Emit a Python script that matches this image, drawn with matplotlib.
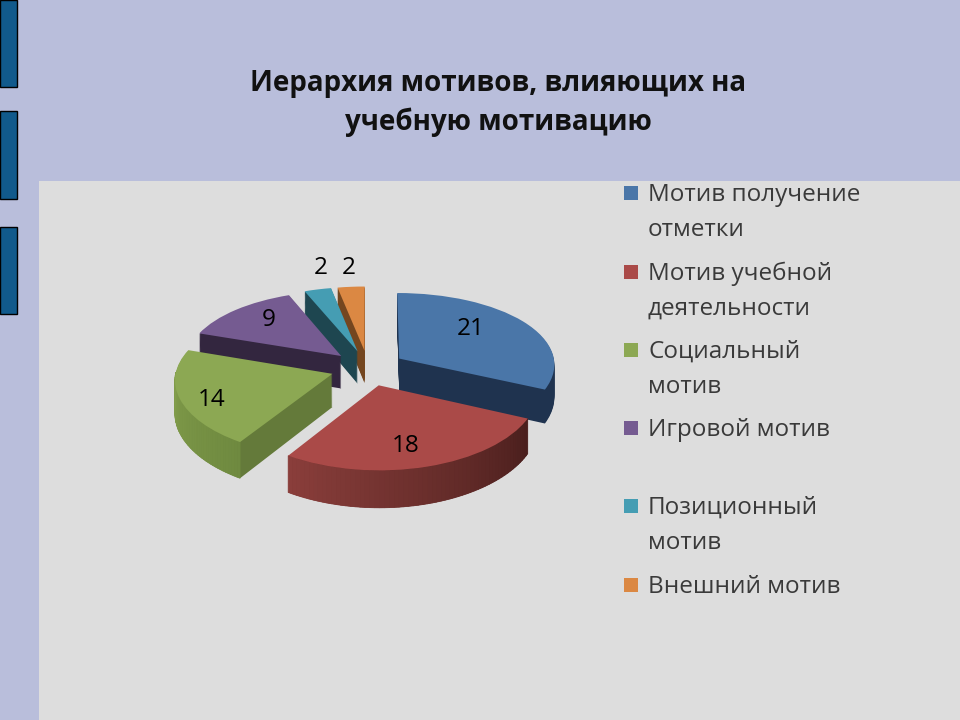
import numpy as np
import matplotlib
matplotlib.use("Agg")
import matplotlib.pyplot as plt
from matplotlib.patches import Rectangle, Polygon
from matplotlib.transforms import Transform
from matplotlib.colors import to_rgb

# Данные диаграммы
title_lines = ["Иерархия мотивов, влияющих на", "учебную мотивацию"]
labels = ["Мотив получение\nотметки", "Мотив учебной\nдеятельности", "Социальный\nмотив",
          "Игровой мотив", "Позиционный\nмотив", "Внешний мотив"]
values = [21, 18, 14, 9, 2, 2]
colors = ["#4A76A8", "#AA4A48", "#8CA853", "#755B91", "#459DB3", "#DB8843"]
side_colors = ["#1F334F", "#4A1F1D", "#647A3A", "#33263F", "#1E4650", "#74461F"]

plt.rcParams["font.family"] = ["Open Sans", "DejaVu Sans"]

DEPTH = 33
CX, CY, RX, RY = 368, 368, 156, 73.5
KX, KY = 0.07, 0.095


# Наклон круга: плоскость диаграммы -> пиксели картинки
class Tilt(Transform):
    input_dims = 2
    output_dims = 2

    def __init__(self, z):
        super().__init__()
        self.z = z

    def transform_non_affine(self, xy):
        xy = np.asarray(xy)
        sx = 1 / (1 + KX * xy[:, 1])
        sy = 1 / (1 + KY * xy[:, 1])
        return np.column_stack((CX + RX * xy[:, 0] * sx, CY - RY * xy[:, 1] * sy + self.z * sy))


fig = plt.figure(figsize=(9.6, 7.2), dpi=100, facecolor="#B9BEDB")
ax = fig.add_axes([0, 0, 1, 1])

# Слои: снизу тёмные боковины, сверху цветная грань
order = [5, 4, 3, 0, 2, 1]
explode = [0.24] * len(values)
for z in list(range(DEPTH, 0, -1)) + [0]:
    wedges, _ = ax.pie(values, explode=explode, startangle=90, counterclock=False)
    for i, w in enumerate(wedges):
        w.set_transform(Tilt(z) + ax.transData)
        w.set_facecolor(colors[i] if z == 0 else side_colors[i])
        w.set_edgecolor("none")
        w.set_zorder(3 + order.index(i) * 2 + (1.5 if z == 0 else 0.5 - z * 0.001))

ax.set_aspect("auto")
ax.set_xlim(0, 960)
ax.set_ylim(720, 0)
ax.axis("off")

# Градиент на внешней стороне красного и зелёного секторов
rim = {1: ("#4A1F1D", "#8A3E3B"), 2: ("#6F8A40", "#88A34E")}
angles = 90 - np.cumsum([0] + values) / sum(values) * 360
for i, (c_right, c_left) in rim.items():
    mid = np.radians((angles[i] + angles[i + 1]) / 2)
    ox, oy = explode[i] * np.cos(mid), explode[i] * np.sin(mid)
    th = np.radians(np.linspace(angles[i], angles[i + 1], 61))
    top, bot = Tilt(0), Tilt(DEPTH)
    x, y = ox + np.cos(th), oy + np.sin(th)
    pts_top = top.transform(np.column_stack((x, y)))
    pts_bot = bot.transform(np.column_stack((x, y)))
    a, b = np.array(to_rgb(c_right)), np.array(to_rgb(c_left))
    for j in range(60):
        if np.sin(th[j]) > 0.02 and i == 2:
            continue
        t = j / 59
        col = a + (b - a) * t
        poly = np.vstack((pts_top[j:j + 2], pts_bot[j:j + 2][::-1]))
        ax.add_patch(Polygon(poly, closed=True, facecolor=col, edgecolor=col, lw=0.6,
                             zorder=3 + order.index(i) * 2 + 1))

# Подписи значений
label_x = [471, 406, 212, 269, 321, 349]
label_y = [329, 446, 400, 320, 268, 268]
for x, y, v in zip(label_x, label_y, values):
    ax.text(x, y, str(v), fontsize=17.5, color="black", ha="center", va="center", zorder=30)

# Фон слайда
ax.add_patch(Rectangle((39, 181), 921, 539, facecolor="#DDDDDD", edgecolor="none", zorder=0))
for y0, y1 in [(0, 87), (111, 199), (227, 314)]:
    ax.add_patch(Rectangle((0, y0), 17, y1 - y0, facecolor="#115A8C", edgecolor="black", lw=1, zorder=1))

# Заголовок
ax.text(498, 84, title_lines[0], fontsize=20, fontweight="bold", ha="center", va="center", color="#111111")
ax.text(498, 122, title_lines[1], fontsize=20, fontweight="bold", ha="center", va="center", color="#111111")

# Легенда
legend_y = [194, 273, 351, 429, 507, 586]
for lab, col, y in zip(labels, colors, legend_y):
    ax.add_patch(Rectangle((624, y - 8), 14, 14, facecolor=col, edgecolor="none", zorder=5))
    for k, line in enumerate(lab.split("\n")):
        ax.text(648, y + 1 + k * 35, line, fontsize=17.5, color="#3A3A3A", ha="left", va="center")

fig.savefig("out.png", dpi=100, facecolor=fig.get_facecolor())
